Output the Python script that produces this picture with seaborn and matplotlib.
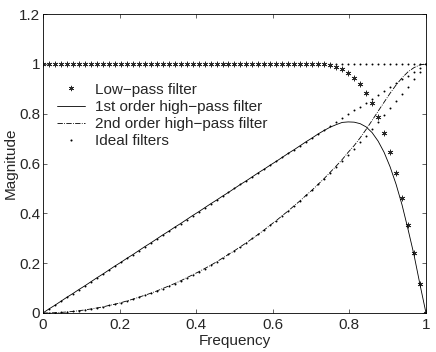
import numpy as np
import pandas as pd
import matplotlib
matplotlib.use("Agg")
import matplotlib.pyplot as plt
import seaborn as sns

# frequency grid (65 samples between 0 and 1)
freq = np.linspace(0, 1, 65)

# low-pass filter magnitude (asterisks)
low_pass = [1.0] * 47 + [0.998, 0.995, 0.988, 0.979, 0.963, 0.943, 0.918, 0.885,
                         0.842, 0.788, 0.724, 0.648, 0.561, 0.463, 0.353, 0.24, 0.116, 0.0]

# 1st order high-pass filter (solid line)
hp1 = [0.0, 0.016, 0.031, 0.047, 0.063, 0.078, 0.094, 0.109, 0.125, 0.141, 0.156,
       0.172, 0.188, 0.203, 0.219, 0.234, 0.25, 0.266, 0.281, 0.297, 0.313, 0.328,
       0.344, 0.359, 0.375, 0.391, 0.406, 0.422, 0.438, 0.453, 0.469, 0.484, 0.5,
       0.516, 0.531, 0.547, 0.563, 0.578, 0.594, 0.609, 0.625, 0.641, 0.656, 0.672,
       0.688, 0.703, 0.719, 0.733, 0.746, 0.756, 0.765, 0.767, 0.766, 0.76, 0.747,
       0.724, 0.69, 0.645, 0.587, 0.517, 0.434, 0.336, 0.233, 0.114, 0.0]

# 2nd order high-pass filter (dash-dot line)
hp2 = [0.0, 0.0, 0.001, 0.002, 0.004, 0.006, 0.009, 0.012, 0.016, 0.02, 0.024,
       0.03, 0.035, 0.041, 0.048, 0.055, 0.063, 0.071, 0.079, 0.088, 0.098, 0.108,
       0.118, 0.129, 0.141, 0.153, 0.165, 0.178, 0.191, 0.205, 0.22, 0.235, 0.25,
       0.266, 0.282, 0.299, 0.316, 0.334, 0.353, 0.371, 0.391, 0.41, 0.431, 0.451,
       0.473, 0.494, 0.517, 0.54, 0.565, 0.59, 0.616, 0.645, 0.672, 0.703, 0.737,
       0.773, 0.81, 0.846, 0.882, 0.915, 0.944, 0.968, 0.985, 0.996, 1.0]

# ideal filters (dotted)
ideal_flat = [1.0] * 65
ideal_1st = [0.0, 0.016, 0.031, 0.047, 0.063, 0.078, 0.094, 0.109, 0.125, 0.141, 0.156,
             0.172, 0.188, 0.203, 0.219, 0.234, 0.25, 0.266, 0.281, 0.297, 0.313, 0.328,
             0.344, 0.359, 0.375, 0.391, 0.406, 0.422, 0.438, 0.453, 0.469, 0.484, 0.5,
             0.516, 0.531, 0.547, 0.563, 0.578, 0.594, 0.609, 0.625, 0.641, 0.656, 0.672,
             0.688, 0.703, 0.719, 0.734, 0.75, 0.766, 0.781, 0.797, 0.813, 0.828, 0.844,
             0.859, 0.875, 0.891, 0.906, 0.922, 0.938, 0.953, 0.969, 0.984, 1.0]
ideal_2nd = [0.0, 0.0, 0.001, 0.002, 0.004, 0.006, 0.009, 0.012, 0.016, 0.02, 0.024,
             0.03, 0.035, 0.041, 0.048, 0.055, 0.063, 0.071, 0.079, 0.088, 0.098, 0.108,
             0.118, 0.129, 0.141, 0.153, 0.165, 0.178, 0.191, 0.205, 0.22, 0.235, 0.25,
             0.266, 0.282, 0.299, 0.316, 0.334, 0.353, 0.371, 0.391, 0.41, 0.431, 0.451,
             0.473, 0.494, 0.517, 0.539, 0.563, 0.586, 0.61, 0.635, 0.66, 0.686, 0.712,
             0.739, 0.766, 0.793, 0.821, 0.85, 0.879, 0.908, 0.939, 0.969, 1.0]

df = pd.DataFrame({"freq": freq, "lp": low_pass, "hp1": hp1, "hp2": hp2,
                   "flat": ideal_flat, "i1": ideal_1st, "i2": ideal_2nd})

sns.set_style("ticks")
plt.rcParams['font.family'] = ['Liberation Sans', 'DejaVu Sans']
plt.rcParams['xtick.direction'] = 'in'
plt.rcParams['ytick.direction'] = 'in'

fig = plt.figure(figsize=(4.36, 3.52), dpi=100)
ax = fig.add_axes([0.0986, 0.111, 0.8784, 0.849])

# ideal filters as small dots
dot_kw = dict(color='k', marker='o', s=2, linewidth=0, ax=ax, legend=False)
sns.scatterplot(data=df, x="freq", y="flat", **dot_kw)
sns.scatterplot(data=df, x="freq", y="i1", **dot_kw)
sns.scatterplot(data=df, x="freq", y="i2", **dot_kw)

# low-pass filter as asterisks
sns.scatterplot(data=df, x="freq", y="lp", color='0.15', marker=(6, 2, 0), s=14,
                linewidth=0.5, ax=ax, legend=False)
sns.lineplot(data=df, x="freq", y="hp1", color='k', linewidth=0.6, ax=ax, legend=False)
sns.lineplot(data=df, x="freq", y="hp2", color='k', linewidth=0.6, linestyle='-.',
             ax=ax, legend=False)

# legend handles
h_lp, = ax.plot([], [], color='0.15', linestyle='none', marker=(6, 2, 0), markersize=3.8,
                markeredgewidth=0.5)
h_1, = ax.plot([], [], color='k', linewidth=0.6)
h_2, = ax.plot([], [], color='k', linewidth=0.6, linestyle='-.')
h_id, = ax.plot([], [], color='k', linestyle='none', marker='o', markersize=1.5,
                markeredgewidth=0)

ax.set_xlim(0, 1)
ax.set_ylim(0, 1.2)
ax.set_xticks([0, 0.2, 0.4, 0.6, 0.8, 1])
ax.set_xticklabels(['0', '0.2', '0.4', '0.6', '0.8', '1'])
ax.set_yticks([0, 0.2, 0.4, 0.6, 0.8, 1, 1.2])
ax.set_yticklabels(['0', '0.2', '0.4', '0.6', '0.8', '1', '1.2'])
ax.tick_params(labelsize=11, length=3, width=0.5, top=True, right=True)
ax.tick_params(axis='x', pad=4)
ax.tick_params(axis='y', pad=2)
for s in ax.spines.values():
    s.set_visible(True)
    s.set_linewidth(0.6)
    s.set_color('k')
ax.set_xlabel("Frequency", fontsize=11, labelpad=1)
ax.set_ylabel("Magnitude", fontsize=11, labelpad=1)

ax.legend([h_lp, h_1, h_2, h_id],
          ["Low\u2212pass filter", "1st order high\u2212pass filter",
           "2nd order high\u2212pass filter", "Ideal filters"],
          loc='upper left', bbox_to_anchor=(0.037, 0.77), frameon=False, fontsize=11,
          numpoints=1, handlelength=1.85, handletextpad=0.65, labelspacing=0.2,
          borderaxespad=0, borderpad=0)

fig.savefig("out.png", dpi=100)
